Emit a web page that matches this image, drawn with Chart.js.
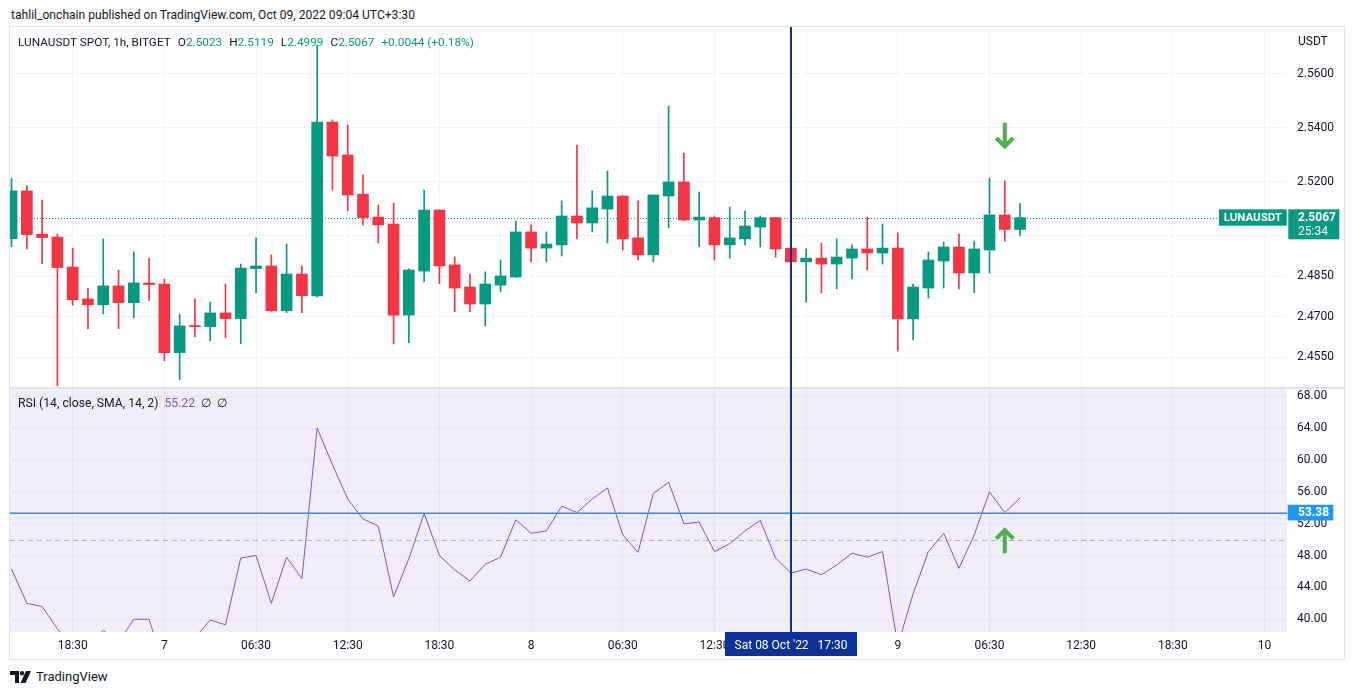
<!DOCTYPE html>
<html>
<head>
<meta charset="utf-8">
<title>LUNAUSDT SPOT 1h</title>
<script src="https://cdn.jsdelivr.net/npm/chart.js@4.4.1/dist/chart.umd.min.js"></script>
<style>
  html, body { margin: 0; padding: 0; background: #ffffff; }
  body { width: 1354px; height: 695px; position: relative; overflow: hidden;
         font-family: Roboto, 'Noto Sans', sans-serif; color: #131722; }
  .abs { position: absolute; white-space: nowrap; }
  #title { left: 11px; top: 6px; font-size: 12.1px; line-height: 18px; }
  #frame { left: 9px; top: 26px; width: 1336px; height: 634px; border: 1px solid #e0e3eb; box-sizing: border-box; }
  #sep { left: 10px; top: 387px; width: 1334px; height: 2px; background: #e0e3eb; }
  #priceChart { left: 10px; top: 27px; }
  #rsiChart { left: 10px; top: 387px; }
  #legend1 { left: 18px; top: 33px; font-size: 11.8px; line-height: 18px; }
  #legend1 .v { color: #089981; }
  #legend1 .k { margin-left: 7px; }
  #usdt { left: 1298px; top: 32px; font-size: 12px; line-height: 18px; }
  #legend2 { left: 18px; top: 394px; font-size: 12.2px; line-height: 18px; }
  #legend2 .v { color: #7e57c2; margin-left: 6px; }
  #legend2 .n { margin-left: 6px; }
  #logo { left: 10px; top: 668px; font-size: 13px; line-height: 18px; display: flex; align-items: center; }
  #logo svg { margin-right: 4px; }
</style>
</head>
<body>
<div id="title" class="abs">tahlil_onchain published on TradingView.com, Oct 09, 2022 09:04 UTC+3:30</div>
<div id="frame" class="abs"></div>
<div id="sep" class="abs"></div>
<canvas id="priceChart" class="abs" width="1334" height="360"></canvas>
<canvas id="rsiChart" class="abs" width="1334" height="272"></canvas>
<div id="legend1" class="abs">LUNAUSDT SPOT, 1h, BITGET<span class="k">O</span><span class="v" id="lo"></span><span class="k">H</span><span class="v" id="lh"></span><span class="k">L</span><span class="v" id="ll"></span><span class="k">C</span><span class="v" id="lc"></span><span class="k v" id="lchg"></span></div>
<div id="usdt" class="abs">USDT</div>
<div id="legend2" class="abs">RSI (14, close, SMA, 14, 2)<span class="v" id="rsiVal"></span><span class="n">∅</span><span class="n">∅</span></div>
<div id="logo" class="abs"><svg width="22" height="12" viewBox="0 0 22 12"><path d="M0 0h9v12H5V4H0z" fill="#131722"/><circle cx="12" cy="2.2" r="2.2" fill="#131722"/><path d="M16 0h5l-5.5 12h-5z" fill="#131722"/></svg>TradingView</div>

<script>
// hours counted from Oct 6 18:30 (UTC+3:30), one candle per hour
const hourIdx = [-4, -3, -2, -1, 0, 1, 2, 3, 4, 5, 6, 7, 8, 9, 10, 11, 12, 13, 14, 15, 16, 17, 18, 19, 20,
  21, 22, 23, 24, 25, 26, 27, 28, 29, 30, 31, 32, 33, 34, 35, 36, 37, 38, 39, 40, 41, 42, 43, 44, 45,
  46, 47, 48, 49, 50, 51, 52, 53, 54, 55, 56, 57, 58, 59, 60, 61, 62];

const open = [2.4989, 2.5166, 2.5006, 2.4995, 2.4884, 2.4766, 2.4744, 2.4814, 2.4752, 2.4825, 2.4821, 2.4567,
  2.4667, 2.4663, 2.4714, 2.4693, 2.4878, 2.4888, 2.4722, 2.4858, 2.4777, 2.5421, 2.5299, 2.5154, 2.5069,
  2.5043, 2.4706, 2.4869, 2.5095, 2.4892, 2.4810, 2.4747, 2.4817, 2.4847, 2.5014, 2.4954, 2.4966, 2.5073,
  2.5047, 2.5099, 2.5147, 2.4992, 2.4929, 2.5147, 2.5199, 2.5058, 2.5067, 2.4966, 2.4988, 2.5032, 2.5067,
  2.4954, 2.4903, 2.4917, 2.4895, 2.4917, 2.4951, 2.4936, 2.4954, 2.4692, 2.4806, 2.4906, 2.4958, 2.4862,
  2.4947, 2.5077, 2.5023];
const high = [2.5213, 2.5185, 2.5132, 2.5006, 2.4954, 2.4806, 2.4988, 2.4873, 2.4940, 2.4917, 2.4840, 2.4710,
  2.4766, 2.4754, 2.4821, 2.4895, 2.4992, 2.4929, 2.4969, 2.4888, 2.5706, 2.5429, 2.5410, 2.5225, 2.5114,
  2.5121, 2.4877, 2.5169, 2.5097, 2.4921, 2.4858, 2.4866, 2.4910, 2.5054, 2.5040, 2.5014, 2.5129, 2.5336,
  2.5166, 2.5240, 2.5149, 2.5129, 2.5151, 2.5480, 2.5306, 2.5162, 2.5073, 2.5106, 2.5092, 2.5073, 2.5068,
  2.4962, 2.4951, 2.4973, 2.4988, 2.4966, 2.5069, 2.5043, 2.5010, 2.4821, 2.4940, 2.4977, 2.5006, 2.4980,
  2.5214, 2.5203, 2.5119];
const low = [2.4959, 2.4951, 2.4896, 2.4444, 2.4743, 2.4656, 2.4711, 2.4656, 2.4696, 2.4759, 2.4537, 2.4467,
  2.4626, 2.4610, 2.4622, 2.4600, 2.4789, 2.4720, 2.4715, 2.4715, 2.4773, 2.5169, 2.5092, 2.5040, 2.4973,
  2.4599, 2.4603, 2.4829, 2.4822, 2.4719, 2.4719, 2.4666, 2.4792, 2.4845, 2.4903, 2.4903, 2.4925, 2.4988,
  2.5014, 2.4973, 2.4947, 2.4910, 2.4903, 2.5029, 2.5056, 2.4959, 2.4910, 2.4917, 2.4966, 2.4958, 2.4921,
  2.4821, 2.4754, 2.4788, 2.4803, 2.4840, 2.4873, 2.4895, 2.4573, 2.4614, 2.4769, 2.4806, 2.4803, 2.4788,
  2.4862, 2.4980, 2.4999];
const close = [2.5166, 2.5004, 2.4993, 2.4882, 2.4763, 2.4744, 2.4814, 2.4752, 2.4825, 2.4819, 2.4567, 2.4666,
  2.4663, 2.4714, 2.4693, 2.4880, 2.4888, 2.4722, 2.4858, 2.4778, 2.5421, 2.5295, 2.5151, 2.5067, 2.5040,
  2.4706, 2.4873, 2.5095, 2.4888, 2.4806, 2.4747, 2.4821, 2.4851, 2.5014, 2.4954, 2.4969, 2.5073, 2.5047,
  2.5103, 2.5147, 2.4988, 2.4929, 2.5151, 2.5199, 2.5058, 2.5069, 2.4966, 2.4992, 2.5036, 2.5067, 2.4951,
  2.4903, 2.4917, 2.4895, 2.4921, 2.4951, 2.4936, 2.4954, 2.4692, 2.4810, 2.4910, 2.4958, 2.4862, 2.4951,
  2.5077, 2.5023, 2.5067];

const rsi = [46.3, 42.0, 41.6, 38.8, 36.5, 37.0, 38.6, 37.1, 40.0, 40.0, 33.8, 36.0, 37.7, 39.9, 39.3, 47.7,
  48.0, 42.0, 47.8, 45.1, 64.0, 59.4, 55.1, 52.6, 51.7, 42.8, 47.6, 53.3, 48.0, 46.2, 44.8, 46.9, 47.8,
  52.5, 50.8, 51.1, 54.2, 53.4, 55.1, 56.5, 50.6, 48.4, 55.8, 57.2, 52.0, 52.2, 48.5, 49.5, 51.1, 52.4,
  47.7, 45.8, 46.3, 45.6, 46.8, 48.3, 47.8, 48.5, 36.7, 43.2, 48.5, 50.8, 46.4, 50.6, 56.0, 53.4, 55.22];

const timeTickPos = [0, 6, 12, 18, 24, 30, 36, 42, 48, 54, 60, 66, 72, 78];
const timeTickLabels = ['18:30', '7', '06:30', '12:30', '18:30', '8', '06:30', '12:30', '18:30', '9', '06:30', '12:30', '18:30', '10'];
const priceTicks = [2.455, 2.47, 2.485, 2.50, 2.52, 2.54, 2.56];
const rsiTicks = [40, 44, 48, 52, 56, 60, 64, 68];

const rsiMiddle = 50;
const rsiLevel = 53.38;
const crosshairHour = 47;
const crosshairText = "Sat 08 Oct '22   17:30";
const countdown = '25:34';

const GREEN = '#089981';
const RED = '#f23645';
const ARROW = '#4caf50';
const BLUE = '#2196f3';
const GRID = '#f0f3fa';
const GRID_RSI = 'rgba(42, 46, 57, 0.06)';
const TEXT = '#131722';
const CROSS = '#0d3196';
const FONT = "Roboto, 'Noto Sans', sans-serif";
const AXIS_W = 57;

const last = close.length - 1;
const lastClose = close[last];
const candleColors = close.map((c, k) => (c >= open[k] ? GREEN : RED));

document.getElementById('lo').textContent = open[last].toFixed(4);
document.getElementById('lh').textContent = high[last].toFixed(4);
document.getElementById('ll').textContent = low[last].toFixed(4);
document.getElementById('lc').textContent = lastClose.toFixed(4);
const chg = lastClose - close[last - 1];
document.getElementById('lchg').textContent =
  (chg >= 0 ? '+' : '') + chg.toFixed(4) + ' (' + (chg >= 0 ? '+' : '') + (chg / close[last - 1] * 100).toFixed(2) + '%)';
document.getElementById('rsiVal').textContent = rsi[last].toFixed(2);

function timeAxis(showLabels) {
  return {
    type: 'linear', min: -4.103, max: 79.47, offset: false,
    afterBuildTicks: s => { s.ticks = timeTickPos.map(v => ({ value: v })); },
    afterFit: s => {
      s.height = showLabels ? 27 : 0;
      s.paddingLeft = 0; s.paddingRight = 0;
    },
    grid: { color: showLabels ? GRID_RSI : GRID, offset: false, drawTicks: false },
    border: { display: false },
    ticks: {
      display: showLabels, autoSkip: false, maxRotation: 0, padding: 7,
      color: TEXT, font: { family: FONT, size: 12 },
      callback: (v, i) => timeTickLabels[i]
    }
  };
}

function valueAxis(min, max, ticks, gridColor, digits) {
  return {
    position: 'right', min: min, max: max,
    afterBuildTicks: s => { s.ticks = ticks.map(v => ({ value: v })); },
    afterFit: s => {
      s.width = AXIS_W;
      s.paddingTop = 0; s.paddingBottom = 0;
    },
    grid: { color: gridColor, drawTicks: false },
    border: { display: false },
    ticks: { padding: 10, color: TEXT, font: { family: FONT, size: 12 }, callback: v => v.toFixed(digits) }
  };
}

function drawArrow(ctx, x, yTail, yTip) {
  const dir = yTip > yTail ? 1 : -1;
  const arm = 8.5;
  const tip = yTip - dir * 2.5;
  ctx.save();
  ctx.strokeStyle = ARROW;
  ctx.lineWidth = 4;
  ctx.lineJoin = 'miter';
  ctx.beginPath();
  ctx.moveTo(x, yTail);
  ctx.lineTo(x, tip);
  ctx.moveTo(x - arm, tip - dir * arm);
  ctx.lineTo(x, tip);
  ctx.lineTo(x + arm, tip - dir * arm);
  ctx.stroke();
  ctx.restore();
}

const pricePaneOverlay = {
  id: 'pricePaneOverlay',
  beforeDatasetsDraw(chart) {
    const { ctx, chartArea: a, scales: { y } } = chart;
    const py = Math.round(y.getPixelForValue(lastClose)) + 0.5;
    ctx.save();
    ctx.strokeStyle = GREEN;
    ctx.lineWidth = 1;
    ctx.setLineDash([1, 2]);
    ctx.beginPath();
    ctx.moveTo(a.left, py);
    ctx.lineTo(a.right, py);
    ctx.stroke();
    ctx.restore();
  },
  afterDatasetsDraw(chart) {
    const { ctx, chartArea: a, scales: { x, y } } = chart;
    const cx = Math.round(x.getPixelForValue(crosshairHour));
    ctx.save();
    ctx.fillStyle = CROSS;
    ctx.fillRect(cx - 1, a.top, 2, a.bottom - a.top);
    ctx.restore();
    drawArrow(ctx, x.getPixelForValue(61), y.getPixelForValue(2.5418), y.getPixelForValue(2.5321));
  },
  afterDraw(chart) {
    const { ctx, chartArea: a, scales: { y } } = chart;
    const py = y.getPixelForValue(lastClose);
    ctx.save();
    ctx.fillStyle = GREEN;
    ctx.fillRect(a.right - 68, py - 8.3, 67.7, 16.4);
    ctx.fillRect(a.right + 1.3, py - 8.3, 51, 30);
    ctx.fillStyle = '#ffffff';
    ctx.textBaseline = 'middle';
    ctx.textAlign = 'center';
    ctx.font = 'bold 11.5px ' + FONT;
    ctx.fillText('LUNAUSDT', a.right - 34.2, py + 0.5);
    ctx.textAlign = 'left';
    ctx.font = 'bold 12px ' + FONT;
    ctx.fillText(lastClose.toFixed(4), a.right + 11, py + 0.5);
    ctx.font = '12px ' + FONT;
    ctx.fillText(countdown, a.right + 11, py + 14.5);
    ctx.restore();
  }
};

const rsiPaneOverlay = {
  id: 'rsiPaneOverlay',
  beforeDraw(chart) {
    const { ctx, chartArea: a } = chart;
    ctx.save();
    ctx.fillStyle = 'rgba(126, 87, 194, 0.1)';
    ctx.fillRect(a.left, a.top, a.right - a.left, a.bottom - a.top);
    ctx.restore();
  },
  beforeDatasetsDraw(chart) {
    const { ctx, chartArea: a, scales: { y } } = chart;
    const my = Math.round(y.getPixelForValue(rsiMiddle)) + 0.5;
    ctx.save();
    ctx.lineWidth = 1;
    ctx.strokeStyle = 'rgba(120, 123, 134, 0.5)';
    ctx.setLineDash([5, 4]);
    ctx.beginPath();
    ctx.moveTo(a.left, my);
    ctx.lineTo(a.right, my);
    ctx.stroke();
    ctx.restore();
  },
  afterDatasetsDraw(chart) {
    const { ctx, chartArea: a, scales: { x, y } } = chart;
    const cx = Math.round(x.getPixelForValue(crosshairHour));
    const hy = Math.round(y.getPixelForValue(rsiLevel));
    ctx.save();
    ctx.fillStyle = BLUE;
    ctx.fillRect(a.left, hy - 0.5, a.right - a.left, 1.5);
    ctx.fillStyle = CROSS;
    ctx.fillRect(cx - 1, 0, 2, a.bottom);
    ctx.restore();
    drawArrow(ctx, x.getPixelForValue(61), y.getPixelForValue(48.3), y.getPixelForValue(51.5));
  },
  afterDraw(chart) {
    const { ctx, chartArea: a, scales: { x, y } } = chart;
    const hy = y.getPixelForValue(rsiLevel);
    const cx = Math.round(x.getPixelForValue(crosshairHour));
    ctx.save();
    ctx.fillStyle = BLUE;
    ctx.fillRect(a.right + 0.7, hy - 8, 45.6, 15.7);
    ctx.fillStyle = '#ffffff';
    ctx.textBaseline = 'middle';
    ctx.textAlign = 'left';
    ctx.font = 'bold 12px ' + FONT;
    ctx.fillText(rsiLevel.toFixed(2), a.right + 11, hy + 0.5);
    ctx.fillStyle = CROSS;
    ctx.fillRect(cx - 66, a.bottom, 132, 24);
    ctx.fillStyle = '#ffffff';
    ctx.textAlign = 'center';
    ctx.font = '12px ' + FONT;
    ctx.fillText(crosshairText, cx, a.bottom + 13.5);
    ctx.restore();
  }
};

const commonOptions = {
  responsive: false,
  animation: false,
  events: [],
  plugins: { legend: { display: false }, tooltip: { enabled: false } }
};

new Chart(document.getElementById('priceChart'), {
  type: 'bar',
  data: {
    datasets: [
      {
        label: 'wick',
        data: hourIdx.map((h, k) => ({ x: h, y: [low[k], high[k]] })),
        backgroundColor: candleColors,
        grouped: false, categoryPercentage: 1, barPercentage: 1, maxBarThickness: 1
      },
      {
        label: 'body',
        data: hourIdx.map((h, k) => ({ x: h, y: [open[k], close[k]] })),
        backgroundColor: candleColors,
        grouped: false, categoryPercentage: 1, barPercentage: 1, maxBarThickness: 11
      }
    ]
  },
  options: {
    ...commonOptions,
    layout: { padding: 0, autoPadding: false },
    scales: {
      x: timeAxis(false),
      y: valueAxis(2.44396, 2.5773, priceTicks, GRID, 4)
    }
  },
  plugins: [pricePaneOverlay]
});

new Chart(document.getElementById('rsiChart'), {
  type: 'line',
  data: {
    datasets: [{
      label: 'RSI',
      data: hourIdx.map((h, k) => ({ x: h, y: rsi[k] })),
      borderColor: '#7e57c2',
      borderWidth: 1,
      pointRadius: 0,
      tension: 0
    }]
  },
  options: {
    ...commonOptions,
    layout: { padding: { top: 2, left: 0, right: 0, bottom: 0 }, autoPadding: false },
    scales: {
      x: timeAxis(true),
      y: valueAxis(38.40, 68.92, rsiTicks, GRID_RSI, 2)
    }
  },
  plugins: [rsiPaneOverlay]
});
</script>
</body>
</html>
